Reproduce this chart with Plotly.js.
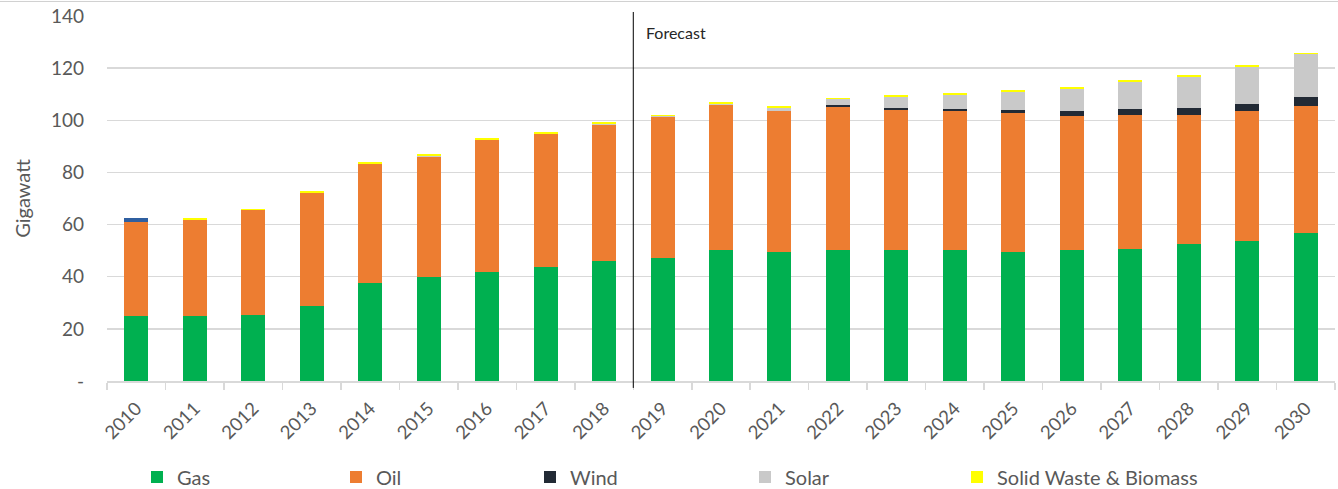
<!DOCTYPE html>
<html>
<head>
<meta charset="utf-8">
<script src="https://cdn.plot.ly/plotly-3.0.1.min.js"></script>
<style>html,body{margin:0;padding:0;background:#fff;}#chart{width:1338px;height:489px;}</style>
</head>
<body>
<div id="chart"></div>
<script>
const years = ["2010","2011","2012","2013","2014","2015","2016","2017","2018","2019","2020","2021","2022","2023","2024","2025","2026","2027","2028","2029","2030"];
const gas   = [25.0,25.0,25.5,28.6,37.7,40.0,41.8,43.9,46.2,47.3,50.1,49.6,50.4,50.1,50.1,49.6,50.1,50.8,52.4,53.8,56.9];
const oil   = [35.8,36.7,39.9,43.5,45.5,45.9,50.5,50.7,51.9,53.8,55.7,53.9,54.8,54.0,53.4,53.1,51.5,51.4,49.8,49.7,48.5];
const wind  = [0,0,0,0,0,0,0,0,0,0,0,0,0.6,0.8,0.9,1.2,1.9,2.2,2.7,2.8,3.6];
const solar = [0,0,0,0.2,0,0.5,0.2,0.2,0.5,0.4,0.5,1.3,2.2,4.0,5.3,6.9,8.5,10.4,11.7,14.1,16.3];
const biomass = [0,0.7,0.7,0.7,0.7,0.7,0.7,0.7,0.7,0.7,0.7,0.7,0.7,0.7,0.7,0.7,0.7,0.7,0.7,0.7,0.7];
const other = [1.9,0,0,0,0,0,0,0,0,0,0,0,0,0,0,0,0,0,0,0,0];
const yTickVals = [0,20,40,60,80,100,120,140];
const yTickText = ["-","20","40","60","80","100","120","140"];
const forecastLabel = "Forecast";
const forecastAfterIndex = 8; // line between 2018 and 2019

const FONT = "Lato, 'Open Sans', sans-serif";
const GREY = "#595959";
const W = 1338, H = 489, ML = 107, MR = 3, MT = 16, MB = 108;
const PW = W - ML - MR;

// legend item left edges (px) for each series
const legendPx = [137, 336, 530, 745, 957];

function bar(name, vals, color, legendId, showlegend) {
  const t = {type:"bar", name:name, x:years, y:vals, marker:{color:color, line:{width:0}},
          showlegend:showlegend, hoverinfo:"x+y+name"};
  if (legendId) t.legend = legendId;
  return t;
}
const data = [
  bar("Gas", gas, "#00b050", "legend", true),
  bar("Oil", oil, "#ed7d31", "legend2", true),
  bar("Wind", wind, "#222a35", "legend3", true),
  bar("Solar", solar, "#c9c9c9", "legend4", true),
  bar("Solid Waste &amp; Biomass", biomass, "#ffff00", "legend5", true),
  bar("Other", other, "#2f5fa0", null, false)
];

function leg(i) {
  return {orientation:"h", xref:"container", yref:"container",
          x:legendPx[i]/W, xanchor:"left", y:(H-477)/H, yanchor:"middle",
          bgcolor:"rgba(0,0,0,0)", font:{family:FONT, size:20, color:GREY}};
}

const layout = {
  width:W, height:H,
  margin:{l:ML, r:MR, t:MT, b:MB, pad:0},
  paper_bgcolor:"#fff", plot_bgcolor:"#fff",
  barmode:"stack", bargap:0.59,
  font:{family:FONT, color:GREY, size:18},
  xaxis:{type:"category", tickson:"boundaries", ticks:"outside", ticklen:7, tickcolor:"#d9d9d9", tickwidth:1.5,
         showline:true, linecolor:"#d9d9d9", linewidth:1.5, showgrid:false, tickangle:-45, ticklabelstandoff:8,
         tickfont:{family:FONT, size:18.5, color:GREY}, fixedrange:true, automargin:false},
  yaxis:{range:[0,140], tickvals:yTickVals, ticktext:yTickText, showgrid:true, gridcolor:"#d9d9d9", gridwidth:1.5,
         zeroline:false, showline:false, ticks:"", ticklabelstandoff:22, automargin:false,
         tickfont:{family:FONT, size:19, color:GREY},
         title:{text:"Gigawatt", font:{family:FONT, size:20, color:GREY}, standoff:14}},
  legend:leg(0), legend2:leg(1), legend3:leg(2), legend4:leg(3), legend5:leg(4),
  shapes:[
    {type:"line", xref:"x", yref:"paper", x0:forecastAfterIndex+0.5, x1:forecastAfterIndex+0.5, y0:-0.019, y1:1.011,
     line:{color:"#000", width:1}},
    {type:"line", xref:"paper", yref:"paper", x0:-ML/PW, x1:1+MR/PW, y0:1.0398, y1:1.0398, line:{color:"#d0d0d0", width:1}}
  ],
  annotations:[
    {text:forecastLabel, xref:"x", yref:"paper", x:forecastAfterIndex+0.5, y:0.956, xanchor:"left", yanchor:"middle",
     xshift:11, showarrow:false, font:{family:FONT, size:16, color:"#262626"}}
  ]
};
Plotly.newPlot("chart", data, layout, {displayModeBar:false, staticPlot:true});
</script>
</body>
</html>
